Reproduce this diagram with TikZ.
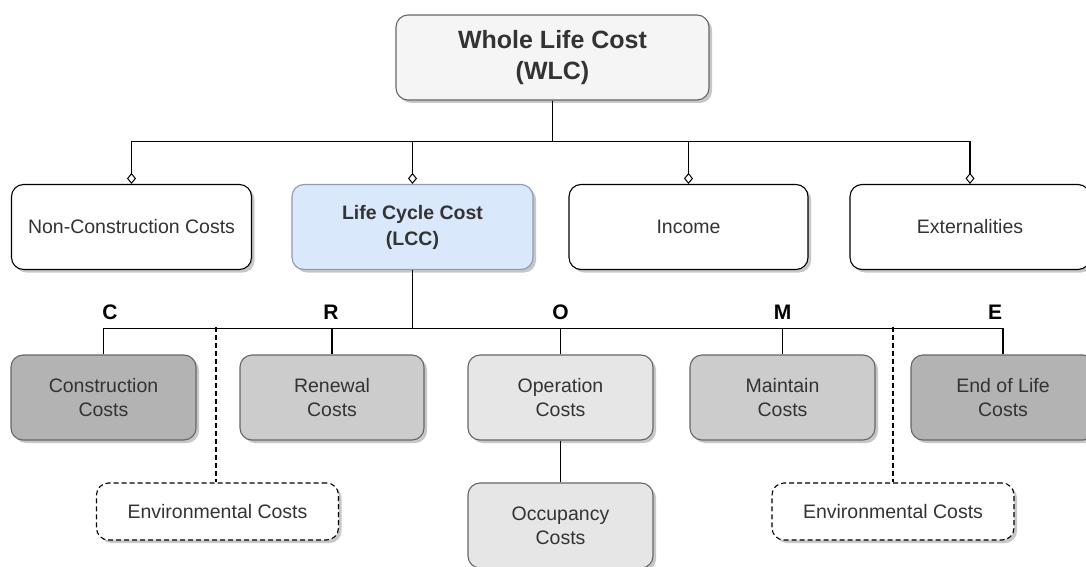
\documentclass[tikz,border=0pt]{standalone}
\usepackage{fontspec}
\setmainfont{Liberation Sans}
\usetikzlibrary{arrows.meta,shadows}
\definecolor{txt}{HTML}{333333}
\definecolor{strk}{HTML}{666666}
\definecolor{wlcfill}{HTML}{F5F5F5}
\definecolor{lccfill}{HTML}{DAE8FC}
\definecolor{lccstrk}{HTML}{8C9BAF}
\definecolor{dkgray}{HTML}{B3B3B3}
\definecolor{mdgray}{HTML}{CCCCCC}
\definecolor{ltgray}{HTML}{E6E6E6}
\tikzset{
  shad/.style={drop shadow={shadow xshift=3pt,shadow yshift=-3pt,fill=black,opacity=0.22}},
  box/.style={shad,draw,rounded corners=12pt,line width=1.1pt,minimum height=85pt,align=center,
    text=txt,font=\fontsize{19.5}{24}\selectfont,inner sep=0pt},
  wbox/.style={box,draw=black,fill=white},
  gbox/.style={box,draw=strk},
  envbox/.style={box,draw=black,fill=white,dashed,dash pattern=on 5pt off 3pt,minimum height=57pt},
  lettr/.style={font=\fontsize{21}{24}\selectfont\bfseries,text=black,inner sep=0pt},
  conn/.style={draw=black,line width=1.1pt},
  diam/.style={conn,-{Diamond[open,length=11pt,width=9pt,line width=1pt]}},
  dashc/.style={draw=black,line width=1.1pt,dash pattern=on 5pt off 3pt}
}
\begin{document}
\begin{tikzpicture}[x=1pt,y=-1pt]
\clip (0,0) rectangle (1086,567);
\fill[white] (0,0) rectangle (1086,567);
% top
\node[gbox,fill=wlcfill,minimum width=313pt,font=\fontsize{25}{31}\selectfont\bfseries] (wlc) at (552.5,57.5) {Whole Life Cost\\(WLC)};
% row 2
\node[wbox,minimum width=240pt] (ncc) at (131.5,227) {Non-Construction Costs};
\node[gbox,draw=lccstrk,fill=lccfill,minimum width=241pt,font=\fontsize{19.5}{26}\selectfont\bfseries] (lcc) at (412.5,227) {Life Cycle Cost\\(LCC)};
\node[wbox,minimum width=239pt] (inc) at (688.5,227) {Income};
\node[wbox,minimum width=240pt] (ext) at (970,227) {Externalities};
% row 3
\node[gbox,fill=dkgray,minimum width=185pt] (con) at (103.5,397.5) {Construction\\Costs};
\node[gbox,fill=mdgray,minimum width=184pt] (ren) at (332,397.5) {Renewal\\Costs};
\node[gbox,fill=ltgray,minimum width=185pt] (ope) at (560.5,397.5) {Operation\\Costs};
\node[gbox,fill=mdgray,minimum width=185pt] (mai) at (782.5,397.5) {Maintain\\Costs};
\node[gbox,fill=dkgray,minimum width=184pt] (eol) at (1003,397.5) {End of Life\\Costs};
% row 4
\node[envbox,minimum width=242pt] (env1) at (217.5,511.5) {Environmental Costs};
\node[gbox,fill=ltgray,minimum width=185pt] (occ) at (560.5,525.5) {Occupancy\\Costs};
\node[envbox,minimum width=242pt] (env2) at (893,511.5) {Environmental Costs};
% letters
\node[lettr] (lc) at (110,312) {C};
\node[lettr] (lr) at (331,312) {R};
\node[lettr] (lo) at (560.5,312) {O};
\node[lettr] (lm) at (782.5,312) {M};
\node[lettr] (le) at (995,312) {E};
% connectors WLC
\draw[diam] (wlc.south) -- ++(0,41) -| (ncc.north);
\draw[diam] (wlc.south) -- ++(0,41) -| (lcc.north);
\draw[diam] (wlc.south) -- ++(0,41) -| (inc.north);
\draw[diam] (wlc.south) -- ++(0,41) -| (ext.north);
% connectors LCC
\draw[conn] (lcc.south) -- ++(0,58) -| (con.north);
\draw[conn] (lcc.south) -- ++(0,58) -| (ren.north);
\draw[conn] (lcc.south) -- ++(0,58) -| (ope.north);
\draw[conn] (lcc.south) -- ++(0,58) -| (mai.north);
\draw[conn] (lcc.south) -- ++(0,58) -| (eol.north);
\draw[conn] (ope.south) -- (occ.north);
% dashed
\coordinate (d1) at (216,327);
\coordinate (d2) at (893,327);
\draw[dashc] (d1) -- (d1 |- env1.north);
\draw[dashc] (d2) -- (d2 |- env2.north);
\end{tikzpicture}
\end{document}
